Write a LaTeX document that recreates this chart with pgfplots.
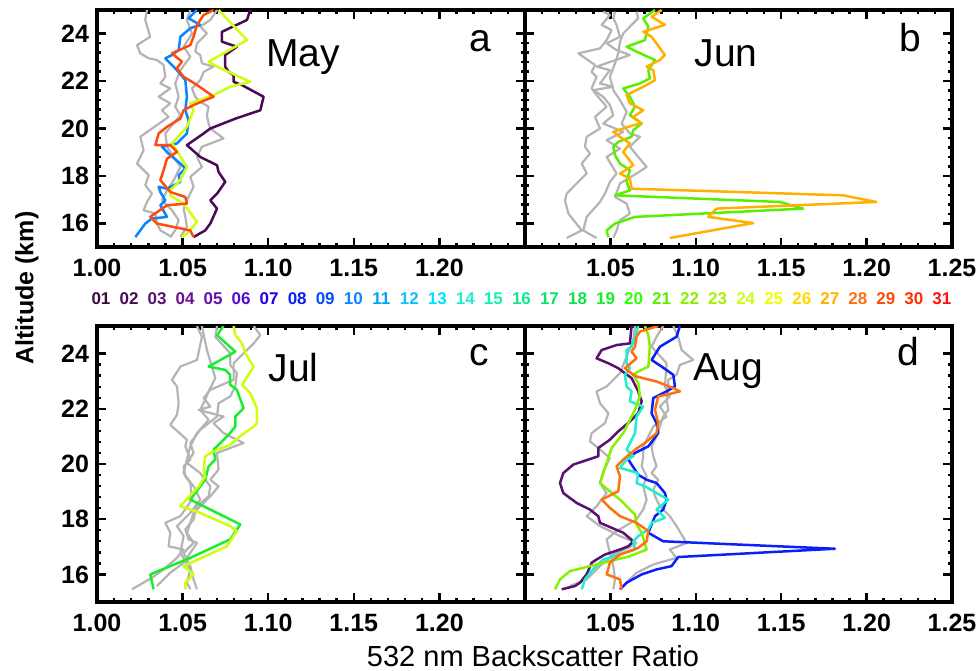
\documentclass[border=0pt]{standalone}
\usepackage{fontspec}
\setmainfont{Liberation Sans}
\usepackage{pgfplots}
\pgfplotsset{compat=1.18}
\definecolor{gry}{HTML}{B4B4B4}
\definecolor{day1}{HTML}{3C0A40}
\definecolor{day2}{HTML}{4A0A55}
\definecolor{day3}{HTML}{5A1070}
\definecolor{day4}{HTML}{6A1090}
\definecolor{day5}{HTML}{6010B0}
\definecolor{day6}{HTML}{5010D0}
\definecolor{day7}{HTML}{2000E8}
\definecolor{day8}{HTML}{0A20F8}
\definecolor{day9}{HTML}{0050FF}
\definecolor{day10}{HTML}{0A84FF}
\definecolor{day11}{HTML}{00A0FF}
\definecolor{day12}{HTML}{10C0FF}
\definecolor{day13}{HTML}{00E0FF}
\definecolor{day14}{HTML}{20EED0}
\definecolor{day15}{HTML}{10F0B0}
\definecolor{day16}{HTML}{10E890}
\definecolor{day17}{HTML}{10E070}
\definecolor{day18}{HTML}{10E050}
\definecolor{day19}{HTML}{18EE30}
\definecolor{day20}{HTML}{30FF00}
\definecolor{day21}{HTML}{58F000}
\definecolor{day22}{HTML}{88F000}
\definecolor{day23}{HTML}{A8F000}
\definecolor{day24}{HTML}{CCFF10}
\definecolor{day25}{HTML}{F0FF00}
\definecolor{day26}{HTML}{FFD800}
\definecolor{day27}{HTML}{FFB000}
\definecolor{day28}{HTML}{FF7010}
\definecolor{day29}{HTML}{FF4A10}
\definecolor{day30}{HTML}{FF3000}
\definecolor{day31}{HTML}{FF1010}
\pgfplotsset{
  panel/.style={
    scale only axis, xmin=1, xmax=1.25, ymin=15, ymax=25,
    axis line style={line width=1.7pt},
    xtick={1,1.05,1.1,1.15,1.2,1.25}, ytick={16,18,20,22,24},
    minor x tick num=4, minor y tick num=4,
    tick align=inside, major tick length=4.5pt, minor tick length=2.2pt,
    tick style={black, line width=1.2pt},
    ticklabel style={font=\fontsize{12.5}{14}\selectfont\bfseries},
    xticklabel style={yshift=-2.5pt},
    yticklabel style={xshift=-0.5pt},
    clip=true, anchor=south west, width=214pt,
  },
  gl/.style={gry, line width=1.1pt, line join=round},
  cl/.style={line width=1.25pt, line join=round},
}
\begin{document}
\begin{tikzpicture}
\useasboundingbox (0,0) rectangle (488.5pt,335pt);
% ---------------- panel a
\begin{axis}[panel, at={(48.5pt,211.5pt)}, height=118.5pt,
  xticklabels={1.00,1.05,1.10,1.15,1.20,{}}, yticklabels={16,18,20,22,24}]
\addplot[gl] coordinates {(1.0292,25)(1.0282,24.58)(1.0311,23.87)(1.0234,23.52)(1.0253,23.17)(1.0302,22.96)(1.0350,22.89)(1.0389,22.68)(1.0399,22.18)(1.0370,21.90)(1.0428,21.69)(1.0360,21.34)(1.0428,21.06)(1.0379,20.77)(1.0418,20.49)(1.0253,19.65)(1.0272,19.08)(1.0234,18.52)(1.0302,18.03)(1.0282,17.61)(1.0321,17.25)(1.0292,16.90)(1.0272,16.55)(1.0341,16.41)(1.0350,15.99)(1.0370,15.70)(1.0438,15.42)};
\addplot[gl] coordinates {(1.0701,25)(1.0662,24.58)(1.0603,24.30)(1.0642,24.01)(1.0584,23.59)(1.0574,23.24)(1.0603,23.10)(1.0613,22.75)(1.0681,22.61)(1.0623,22.39)(1.0603,22.04)(1.0555,21.69)(1.0574,21.34)(1.0603,21.13)(1.0652,20.92)(1.0642,20.56)(1.0652,20.21)(1.0662,20.00)(1.0739,19.58)(1.0613,19.23)(1.0584,18.80)(1.0613,18.38)(1.0545,17.96)(1.0564,17.54)(1.0525,16.97)(1.0506,16.62)(1.0516,16.27)(1.0525,15.85)(1.0487,15.42)};
\addplot[gl] coordinates {(1.0545,25)(1.0525,24.58)(1.0555,24.01)(1.0506,23.45)(1.0545,23.03)(1.0487,22.46)(1.0457,21.90)(1.0477,21.34)(1.0457,20.92)(1.0487,20.56)(1.0438,20.14)(1.0399,19.79)(1.0409,19.23)(1.0448,18.80)(1.0487,18.38)(1.0448,17.82)(1.0409,17.39)(1.0379,16.97)(1.0438,16.55)(1.0477,16.13)(1.0457,15.70)(1.0428,15.42)};
\addplot[cl, day2] coordinates {(1.0895,25)(1.0876,24.58)(1.073,24.08)(1.073,23.66)(1.0817,23.45)(1.0749,23.1)(1.0749,22.61)(1.0769,22.39)(1.0798,22.25)(1.0798,21.97)(1.0847,21.83)(1.0973,21.34)(1.0954,20.77)(1.081,20.42)(1.0662,20.0)(1.0623,19.79)(1.0525,19.3)(1.0603,18.8)(1.0701,18.45)(1.071,18.17)(1.0749,17.75)(1.0701,17.25)(1.0662,16.97)(1.0701,16.62)(1.0662,15.99)(1.0632,15.7)(1.0564,15.42)};
\addplot[cl, day10] coordinates {(1.0584,25)(1.0535,24.65)(1.0603,24.37)(1.0545,24.23)(1.0487,23.87)(1.0477,23.31)(1.0438,23.10)(1.0399,22.96)(1.0467,22.46)(1.0516,22.04)(1.0525,21.34)(1.0516,20.77)(1.0535,20.35)(1.0525,19.79)(1.0467,19.37)(1.0379,19.23)(1.0418,18.94)(1.0487,18.52)(1.0516,18.31)(1.0477,18.03)(1.0487,17.75)(1.0409,17.46)(1.0360,17.54)(1.0370,17.32)(1.0399,16.97)(1.0370,16.76)(1.0409,16.27)(1.0321,16.20)(1.0282,15.99)(1.0224,15.42)};
\addplot[cl, day24] coordinates {(1.0710,25)(1.0876,23.73)(1.0652,22.82)(1.0701,22.61)(1.0895,21.97)(1.0778,21.76)(1.0681,21.41)(1.0545,21.06)(1.0564,20.77)(1.0525,20.07)(1.0438,19.37)(1.0477,18.94)(1.0525,18.38)(1.0487,17.82)(1.0428,17.39)(1.0428,17.18)(1.0506,16.83)(1.0584,16.06)(1.0525,15.56)(1.0496,15.42)};
\addplot[cl, day29] coordinates {(1.0681,25)(1.0623,24.79)(1.0584,24.37)(1.0564,23.87)(1.0545,23.52)(1.0438,23.17)(1.0496,22.82)(1.0467,22.54)(1.0506,22.18)(1.0555,21.97)(1.0613,21.69)(1.0681,21.34)(1.0564,20.99)(1.0506,20.77)(1.0487,20.42)(1.0409,20.07)(1.0360,19.79)(1.0341,19.30)(1.0428,19.30)(1.0467,19.01)(1.0409,18.73)(1.0389,18.24)(1.0370,17.82)(1.0428,17.32)(1.0516,17.11)(1.0525,16.83)(1.0409,16.76)(1.0311,16.27)(1.0350,15.99)(1.0545,15.70)(1.0564,15.42)};
\end{axis}
% ---------------- panel b
\begin{axis}[panel, at={(262.5pt,211.5pt)}, height=118.5pt, width=213.5pt,
  xticklabels={{},1.05,1.10,1.15,1.20,1.25}, yticklabels={}]
\addplot[gl] coordinates {(1.0458,24.93)(1.0497,24.79)(1.0449,24.37)(1.0507,24.15)(1.0478,23.73)(1.0439,23.38)(1.0312,23.17)(1.0410,22.68)(1.0390,22.39)(1.0419,22.18)(1.0390,21.69)(1.0419,21.41)(1.0478,20.92)(1.0410,20.49)(1.0439,20.00)(1.0361,19.65)(1.0351,19.23)(1.0380,18.94)(1.0332,18.52)(1.0361,18.10)(1.0312,17.75)(1.0283,17.54)(1.0244,17.25)(1.0234,16.97)(1.0254,16.41)(1.0332,15.70)(1.0244,15.38)};
\addplot[gl] coordinates {(1.0527,24.93)(1.0517,24.65)(1.0536,24.37)(1.0556,23.87)(1.0478,23.59)(1.0536,23.31)(1.0614,23.10)(1.0419,22.61)(1.0497,22.46)(1.0439,21.90)(1.0517,21.76)(1.0400,21.62)(1.0458,21.34)(1.0497,20.99)(1.0517,20.56)(1.0458,20.21)(1.0575,19.86)(1.0478,19.51)(1.0556,19.15)(1.0478,18.80)(1.0536,18.10)(1.0497,17.75)(1.0468,17.25)(1.0439,16.90)(1.0361,16.27)(1.0341,15.70)(1.0419,15.38)};
\addplot[gl] coordinates {(1.0653,24.93)(1.0663,24.65)(1.0624,24.37)(1.0575,24.01)(1.0556,23.66)(1.0546,23.17)(1.0527,22.75)(1.0497,22.18)(1.0517,21.62)(1.0556,21.20)(1.0595,20.70)(1.0566,20.21)(1.0614,19.79)(1.0673,19.65)(1.0614,19.23)(1.0663,18.80)(1.0712,18.38)(1.0653,18.10)(1.0556,17.68)(1.0527,17.11)(1.0595,16.83)(1.0614,16.41)(1.0556,16.13)(1.0536,15.70)(1.0517,15.38)};
\addplot[cl, day21] coordinates {(1.0761,25)(1.0692,24.65)(1.0722,24.30)(1.0702,23.73)(1.0595,23.45)(1.0653,23.24)(1.0761,22.89)(1.0722,22.46)(1.0731,22.11)(1.0673,21.90)(1.0575,21.69)(1.0614,21.34)(1.0644,20.92)(1.0614,20.56)(1.0683,20.21)(1.0634,19.93)(1.0624,19.65)(1.0546,19.44)(1.0517,19.23)(1.0527,18.87)(1.0556,18.52)(1.0614,18.24)(1.0595,17.75)(1.0614,17.39)(1.0527,17.18)(1.1492,16.90)(1.1628,16.62)(1.0644,16.27)(1.0527,15.99)(1.0478,15.70)(1.0488,15.42)};
\addplot[cl, day27] coordinates {(1.0800,25)(1.0741,24.72)(1.0819,24.37)(1.0692,24.08)(1.0741,23.87)(1.0770,23.59)(1.0819,23.10)(1.0790,22.89)(1.0712,22.61)(1.0751,22.46)(1.0761,22.04)(1.0692,21.76)(1.0595,21.41)(1.0614,21.06)(1.0692,20.77)(1.0634,20.49)(1.0683,20.21)(1.0634,20.14)(1.0517,19.86)(1.0556,19.65)(1.0614,19.37)(1.0575,19.01)(1.0634,18.45)(1.0556,18.10)(1.0614,17.89)(1.0624,17.46)(1.1862,17.18)(1.2057,16.90)(1.1121,16.62)(1.1073,16.27)(1.1336,16.01)(1.0848,15.38)};
\end{axis}
% ---------------- panel c
\begin{axis}[panel, at={(48.5pt,34pt)}, height=138pt,
  xticklabels={1.00,1.05,1.10,1.15,1.20,{}}, yticklabels={16,18,20,22,24}]
\addplot[gl] coordinates {(1.0584,25)(1.0613,24.61)(1.0584,23.77)(1.0487,23.53)(1.0438,23.05)(1.0467,22.81)(1.0477,22.20)(1.0467,21.78)(1.0428,21.42)(1.0525,20.88)(1.0516,20.64)(1.0545,20.16)(1.0506,19.92)(1.0516,19.55)(1.0545,19.31)(1.0555,18.71)(1.0487,18.11)(1.0399,17.87)(1.0428,17.51)(1.0418,17.02)(1.0506,16.90)(1.0467,16.60)(1.0389,16.18)(1.0321,15.88)(1.0204,15.46)};
\addplot[gl] coordinates {(1.0701,25)(1.0691,24.61)(1.0778,24.01)(1.0778,23.59)(1.0817,23.29)(1.0808,22.81)(1.0778,22.45)(1.0710,22.20)(1.0701,21.72)(1.0603,21.24)(1.0545,20.76)(1.0564,20.40)(1.0525,20.04)(1.0603,19.67)(1.0662,19.19)(1.0652,18.83)(1.0584,18.47)(1.0564,17.99)(1.0516,17.63)(1.0535,17.27)(1.0584,17.14)(1.0545,16.78)(1.0506,16.42)(1.0428,16.06)(1.0350,15.58)};
\addplot[gl] coordinates {(1.0915,25)(1.0954,24.67)(1.0915,24.37)(1.0856,24.01)(1.0798,23.65)(1.0798,23.05)(1.0662,22.69)(1.0623,22.39)(1.0662,22.08)(1.0594,21.96)(1.0739,21.72)(1.0681,21.48)(1.0739,21.12)(1.0856,20.76)(1.0701,20.40)(1.0710,19.80)(1.0662,19.43)(1.0710,19.19)(1.0662,18.83)(1.0603,18.47)(1.0564,18.23)(1.0545,17.87)(1.0525,17.51)(1.0564,17.14)(1.0506,16.78)(1.0545,16.30)(1.0564,15.82)(1.0584,15.46)};
\addplot[gl] coordinates {(1.0613,25)(1.0642,24.13)(1.0671,23.53)(1.0691,23.11)(1.0652,22.63)(1.0632,22.33)(1.0603,21.96)(1.0652,21.60)(1.0584,21.12)(1.0545,20.64)(1.0525,20.16)(1.0506,19.67)(1.0564,19.19)(1.0603,18.71)(1.0545,18.23)(1.0467,17.75)(1.0506,17.39)(1.0487,16.78)(1.0545,16.18)(1.0525,15.70)(1.0545,15.46)};
\addplot[cl, day19] coordinates {(1.0739,25)(1.0701,24.67)(1.0808,24.07)(1.0652,23.53)(1.0749,23.41)(1.0778,23.23)(1.0778,22.87)(1.0817,22.69)(1.0856,22.02)(1.0808,21.72)(1.0808,21.36)(1.0769,21.06)(1.0681,20.52)(1.0691,20.16)(1.0652,19.92)(1.0632,19.43)(1.0545,18.71)(1.0837,17.81)(1.0778,17.27)(1.0545,16.60)(1.0311,16.00)(1.0331,15.46)};
\addplot[cl, day24] coordinates {(1.0798,25)(1.0808,24.67)(1.0847,24.37)(1.0866,24.01)(1.0915,23.53)(1.0847,22.87)(1.0895,22.57)(1.0934,22.02)(1.0934,21.48)(1.0915,21.36)(1.0847,21.06)(1.0778,20.70)(1.0681,20.46)(1.0632,20.28)(1.0623,19.80)(1.0632,19.55)(1.0594,19.19)(1.0487,18.47)(1.0603,18.23)(1.0778,17.75)(1.0817,17.57)(1.0759,17.02)(1.0506,16.30)(1.0564,16.00)(1.0516,15.70)(1.0516,15.46)};
\end{axis}
% ---------------- panel d
\begin{axis}[panel, at={(262.5pt,34pt)}, height=138pt, width=213.5pt,
  xticklabels={{},1.05,1.10,1.15,1.20,1.25}, yticklabels={}]
\addplot[gl] coordinates {(1.0809,25)(1.0770,24.61)(1.0741,24.25)(1.0829,23.65)(1.0819,22.81)(1.0848,22.45)(1.0790,22.08)(1.0829,21.72)(1.0751,21.36)(1.0722,21.00)(1.0692,20.64)(1.0692,20.28)(1.0683,19.92)(1.0712,19.55)(1.0692,19.19)(1.0712,18.71)(1.0692,18.35)(1.0653,17.99)(1.0536,17.57)(1.0478,17.27)(1.0497,16.78)(1.0517,16.30)(1.0527,15.82)(1.0517,15.46)};
\addplot[gl] coordinates {(1.0868,25)(1.0897,24.61)(1.0917,24.13)(1.0985,23.77)(1.0907,23.59)(1.0887,23.23)(1.0839,23.05)(1.0839,22.69)(1.0829,22.33)(1.0839,21.96)(1.0809,21.72)(1.0790,21.36)(1.0770,21.00)(1.0741,20.64)(1.0751,20.28)(1.0770,19.92)(1.0741,19.67)(1.0780,19.43)(1.0751,19.07)(1.0761,18.83)(1.0790,18.47)(1.0848,18.11)(1.0887,17.75)(1.0946,17.14)(1.0848,16.90)(1.0887,16.60)(1.0751,16.36)(1.0653,16.06)(1.0575,15.58)};
\addplot[gl] coordinates {(1.0644,25)(1.0634,24.49)(1.0595,23.89)(1.0556,23.29)(1.0478,22.81)(1.0419,22.63)(1.0439,22.20)(1.0488,21.84)(1.0468,21.48)(1.0390,21.12)(1.0380,20.82)(1.0429,20.58)(1.0497,20.22)(1.0458,19.73)(1.0439,19.31)(1.0478,18.95)(1.0419,18.47)(1.0361,18.11)(1.0439,17.75)(1.0556,17.39)(1.0653,17.14)(1.0605,16.96)(1.0517,16.72)(1.0439,16.30)(1.0361,15.82)(1.0263,15.58)};
\addplot[cl, day3] coordinates {(1.0624,25)(1.0614,24.37)(1.0536,24.31)(1.0449,24.13)(1.0419,23.83)(1.0488,23.65)(1.0546,23.47)(1.0624,23.11)(1.0644,22.87)(1.0663,22.63)(1.0683,22.27)(1.0663,21.84)(1.0614,21.54)(1.0546,21.18)(1.0497,20.88)(1.0429,20.58)(1.0429,20.28)(1.0283,19.98)(1.0224,19.67)(1.0205,19.31)(1.0224,18.95)(1.0302,18.59)(1.0380,18.35)(1.0429,18.11)(1.0439,17.87)(1.0507,17.69)(1.0575,17.51)(1.0634,17.20)(1.0605,17.02)(1.0556,16.90)(1.0468,16.72)(1.0419,16.54)(1.0390,16.42)(1.0361,16.00)(1.0322,15.70)(1.0293,15.58)(1.0215,15.46)};
\addplot[cl, day8] coordinates {(1.0907,25)(1.0887,24.61)(1.0790,24.25)(1.0741,23.77)(1.0800,23.53)(1.0868,23.23)(1.0878,22.81)(1.0829,22.63)(1.0751,22.39)(1.0741,21.84)(1.0770,21.48)(1.0780,21.12)(1.0722,20.64)(1.0644,20.40)(1.0605,20.16)(1.0663,19.61)(1.0712,19.43)(1.0770,19.31)(1.0819,18.95)(1.0829,18.71)(1.0809,18.35)(1.0761,18.11)(1.0741,17.81)(1.0722,17.51)(1.0809,17.20)(1.1814,16.93)(1.0897,16.63)(1.0858,16.30)(1.0770,16.18)(1.0683,16.00)(1.0595,15.70)(1.0556,15.46)};
\addplot[cl, day14] coordinates {(1.0663,25)(1.0644,24.61)(1.0624,24.25)(1.0595,24.13)(1.0595,23.65)(1.0614,23.47)(1.0585,23.23)(1.0595,22.81)(1.0624,22.63)(1.0614,22.27)(1.0692,22.08)(1.0653,21.72)(1.0644,21.12)(1.0595,20.52)(1.0634,20.28)(1.0595,20.16)(1.0556,19.86)(1.0663,19.67)(1.0653,19.31)(1.0702,19.19)(1.0770,18.95)(1.0839,18.71)(1.0770,18.35)(1.0819,18.05)(1.0741,17.87)(1.0722,17.63)(1.0663,17.39)(1.0634,17.20)(1.0644,16.90)(1.0556,16.72)(1.0458,16.54)(1.0390,16.12)(1.0351,15.82)(1.0332,15.46)};
\addplot[cl, day22] coordinates {(1.0702,25)(1.0722,24.67)(1.0731,24.25)(1.0722,23.53)(1.0663,23.35)(1.0634,23.23)(1.0663,22.93)(1.0673,22.45)(1.0644,21.96)(1.0614,21.60)(1.0595,21.36)(1.0575,21.12)(1.0507,20.58)(1.0478,20.04)(1.0439,19.31)(1.0497,19.01)(1.0556,18.71)(1.0595,18.47)(1.0644,18.17)(1.0653,17.81)(1.0683,17.51)(1.0712,16.90)(1.0614,16.66)(1.0419,16.36)(1.0263,16.12)(1.0205,15.82)(1.0176,15.46)};
\addplot[cl, day28] coordinates {(1.0780,25)(1.0673,24.80)(1.0653,24.61)(1.0644,24.25)(1.0624,24.07)(1.0653,23.83)(1.0585,23.47)(1.0634,23.23)(1.0653,23.17)(1.0770,22.99)(1.0868,22.75)(1.0907,22.63)(1.0829,22.51)(1.0780,22.45)(1.0761,21.96)(1.0780,21.48)(1.0770,21.12)(1.0702,20.76)(1.0644,20.52)(1.0575,20.16)(1.0536,19.92)(1.0556,19.55)(1.0546,19.01)(1.0449,18.71)(1.0497,18.41)(1.0556,18.11)(1.0653,17.87)(1.0722,17.57)(1.0712,17.20)(1.0663,16.96)(1.0556,16.72)(1.0497,16.42)(1.0478,16.00)(1.0556,15.82)(1.0566,15.46)};
\end{axis}
% ---------------- text
\def\mfont{\fontsize{19.5}{22}\selectfont}
\node[anchor=base, font=\mfont] at (151.5pt,301.7pt) {May};
\node[anchor=base, font=\mfont] at (240pt,309pt) {a};
\node[anchor=base, font=\mfont] at (363pt,301.7pt) {Jun};
\node[anchor=base, font=\mfont] at (455pt,309pt) {b};
\node[anchor=base, font=\mfont] at (146.8pt,144.2pt) {Jul};
\node[anchor=base, font=\mfont] at (239.5pt,152.5pt) {c};
\node[anchor=base, font=\mfont] at (364pt,144.7pt) {Aug};
\node[anchor=base, font=\mfont] at (454pt,152.5pt) {d};
\foreach \k in {1,...,31}{
  \pgfmathsetmacro\xx{50.5+14.015*(\k-1)}
  \node[text=day\k, font=\fontsize{8.5}{10}\selectfont\bfseries] at (\xx pt,185.5pt) {\ifnum\k<10 0\fi\k};
}
\node[rotate=90, font=\fontsize{12.5}{14}\selectfont\bfseries] at (13.5pt,191pt) {Altitude (km)};
\node[font=\fontsize{14.5}{16}\selectfont] at (266.5pt,7pt) {532 nm Backscatter Ratio};
\end{tikzpicture}
\end{document}
